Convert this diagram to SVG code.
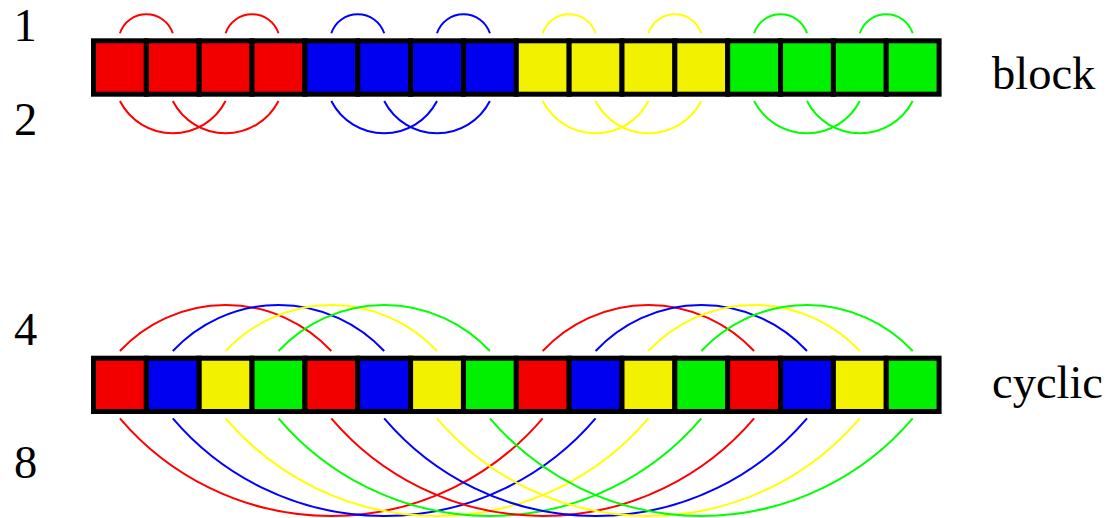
<svg xmlns="http://www.w3.org/2000/svg" width="1108" height="518" viewBox="0 0 1108 518">
<style>
.lbl{font-family:"Liberation Serif","Times New Roman",serif;font-size:46.5px;fill:#000}
.num{text-anchor:middle}
.cell{stroke:#000;stroke-width:5}
.r{fill:#f20000}.b{fill:#0000f0}.y{fill:#f2f200}.g{fill:#00f000}
.arc{fill:none;stroke-width:2}
.ar{stroke:#ff0000}.ab{stroke:#0000ff}.ay{stroke:#ffff00}.ag{stroke:#00ff00}
</style>
<rect width="1108" height="518" fill="#fff"/>
<g id="connectors">
<g id="block-top">
<path class="arc ar" d="M119.9,33.3 A27.84,27.84 0 0 1 172.8,33.3"/>
<path class="arc ar" d="M225.6,33.3 A27.84,27.84 0 0 1 278.5,33.3"/>
<path class="arc ab" d="M331.3,33.3 A27.84,27.84 0 0 1 384.2,33.3"/>
<path class="arc ab" d="M437.0,33.3 A27.84,27.84 0 0 1 489.9,33.3"/>
<path class="arc ay" d="M542.7,33.3 A27.84,27.84 0 0 1 595.6,33.3"/>
<path class="arc ay" d="M648.4,33.3 A27.84,27.84 0 0 1 701.3,33.3"/>
<path class="arc ag" d="M754.1,33.3 A27.84,27.84 0 0 1 807.0,33.3"/>
<path class="arc ag" d="M859.8,33.3 A27.84,27.84 0 0 1 912.7,33.3"/>
</g>
<g id="block-bottom">
<path class="arc ar" d="M119.9,101 A59.4,59.4 0 0 0 225.6,101"/>
<path class="arc ar" d="M172.8,101 A59.4,59.4 0 0 0 278.5,101"/>
<path class="arc ab" d="M331.3,101 A59.4,59.4 0 0 0 437.0,101"/>
<path class="arc ab" d="M384.2,101 A59.4,59.4 0 0 0 489.9,101"/>
<path class="arc ay" d="M542.7,101 A59.4,59.4 0 0 0 648.4,101"/>
<path class="arc ay" d="M595.6,101 A59.4,59.4 0 0 0 701.3,101"/>
<path class="arc ag" d="M754.1,101 A59.4,59.4 0 0 0 859.8,101"/>
<path class="arc ag" d="M807.0,101 A59.4,59.4 0 0 0 912.7,101"/>
</g>
<g id="cyclic-top">
<path class="arc ar" d="M119.9,351 A144.4,144.4 0 0 1 331.3,351"/>
<path class="arc ab" d="M172.8,351 A144.4,144.4 0 0 1 384.2,351"/>
<path class="arc ay" d="M225.6,351 A144.4,144.4 0 0 1 437.0,351"/>
<path class="arc ag" d="M278.5,351 A144.4,144.4 0 0 1 489.9,351"/>
<path class="arc ar" d="M542.7,351 A144.4,144.4 0 0 1 754.1,351"/>
<path class="arc ab" d="M595.6,351 A144.4,144.4 0 0 1 807.0,351"/>
<path class="arc ay" d="M648.4,351 A144.4,144.4 0 0 1 859.8,351"/>
<path class="arc ag" d="M701.3,351 A144.4,144.4 0 0 1 912.7,351"/>
</g>
<g id="cyclic-bottom">
<path class="arc ar" d="M119.9,418.3 A277.6,277.6 0 0 0 542.7,418.3"/>
<path class="arc ab" d="M172.8,418.3 A277.6,277.6 0 0 0 595.6,418.3"/>
<path class="arc ay" d="M225.6,418.3 A277.6,277.6 0 0 0 648.4,418.3"/>
<path class="arc ag" d="M278.5,418.3 A277.6,277.6 0 0 0 701.3,418.3"/>
<path class="arc ar" d="M331.3,418.3 A277.6,277.6 0 0 0 754.1,418.3"/>
<path class="arc ab" d="M384.2,418.3 A277.6,277.6 0 0 0 807.0,418.3"/>
<path class="arc ay" d="M437.0,418.3 A277.6,277.6 0 0 0 859.8,418.3"/>
<path class="arc ag" d="M489.9,418.3 A277.6,277.6 0 0 0 912.7,418.3"/>
</g>
</g>
<g id="block-bar">
<rect class="cell r" x="93.5" y="40.8" width="52.85" height="53.4"/>
<rect class="cell r" x="146.35" y="40.8" width="52.85" height="53.4"/>
<rect class="cell r" x="199.2" y="40.8" width="52.85" height="53.4"/>
<rect class="cell r" x="252.05" y="40.8" width="52.85" height="53.4"/>
<rect class="cell b" x="304.9" y="40.8" width="52.85" height="53.4"/>
<rect class="cell b" x="357.75" y="40.8" width="52.85" height="53.4"/>
<rect class="cell b" x="410.6" y="40.8" width="52.85" height="53.4"/>
<rect class="cell b" x="463.45" y="40.8" width="52.85" height="53.4"/>
<rect class="cell y" x="516.3" y="40.8" width="52.85" height="53.4"/>
<rect class="cell y" x="569.15" y="40.8" width="52.85" height="53.4"/>
<rect class="cell y" x="622.0" y="40.8" width="52.85" height="53.4"/>
<rect class="cell y" x="674.85" y="40.8" width="52.85" height="53.4"/>
<rect class="cell g" x="727.7" y="40.8" width="52.85" height="53.4"/>
<rect class="cell g" x="780.55" y="40.8" width="52.85" height="53.4"/>
<rect class="cell g" x="833.4" y="40.8" width="52.85" height="53.4"/>
<rect class="cell g" x="886.25" y="40.8" width="52.85" height="53.4"/>
</g>
<g id="cyclic-bar">
<rect class="cell r" x="93.5" y="358.2" width="52.85" height="53.3"/>
<rect class="cell b" x="146.35" y="358.2" width="52.85" height="53.3"/>
<rect class="cell y" x="199.2" y="358.2" width="52.85" height="53.3"/>
<rect class="cell g" x="252.05" y="358.2" width="52.85" height="53.3"/>
<rect class="cell r" x="304.9" y="358.2" width="52.85" height="53.3"/>
<rect class="cell b" x="357.75" y="358.2" width="52.85" height="53.3"/>
<rect class="cell y" x="410.6" y="358.2" width="52.85" height="53.3"/>
<rect class="cell g" x="463.45" y="358.2" width="52.85" height="53.3"/>
<rect class="cell r" x="516.3" y="358.2" width="52.85" height="53.3"/>
<rect class="cell b" x="569.15" y="358.2" width="52.85" height="53.3"/>
<rect class="cell y" x="622.0" y="358.2" width="52.85" height="53.3"/>
<rect class="cell g" x="674.85" y="358.2" width="52.85" height="53.3"/>
<rect class="cell r" x="727.7" y="358.2" width="52.85" height="53.3"/>
<rect class="cell b" x="780.55" y="358.2" width="52.85" height="53.3"/>
<rect class="cell y" x="833.4" y="358.2" width="52.85" height="53.3"/>
<rect class="cell g" x="886.25" y="358.2" width="52.85" height="53.3"/>
</g>
<g id="labels">
<text class="lbl num" x="25" y="41">1</text>
<text class="lbl num" x="25.5" y="135">2</text>
<text class="lbl num" x="25.5" y="345">4</text>
<text class="lbl num" x="25.5" y="478">8</text>
<text class="lbl" x="992" y="89.3">block</text>
<text class="lbl" x="992" y="398">cyclic</text>
</g>
</svg>
